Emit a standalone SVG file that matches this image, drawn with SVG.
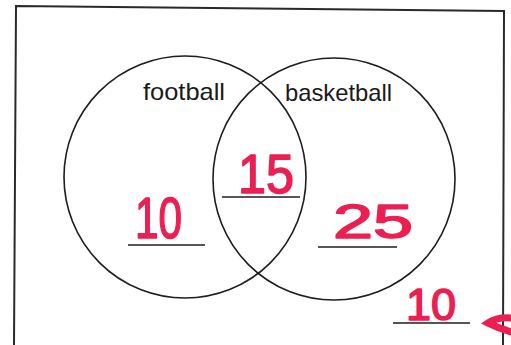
<svg xmlns="http://www.w3.org/2000/svg" width="511" height="345" viewBox="0 0 511 345">
<style>
.frame{fill:none;stroke:#2a2a2a;stroke-width:2}
.set{fill:none;stroke:#1e1e1e;stroke-width:1.6}
.label{font-family:"Liberation Sans",Arial,sans-serif;font-size:24px;fill:#1a1a1a}
.hand{font-family:"Liberation Sans",Arial,sans-serif;fill:#ec1f52;stroke:#ec1f52;stroke-width:1.6;stroke-linejoin:round}
.blank{stroke:#1e1e1e;stroke-width:1.6}
.mark{fill:none;stroke:#ec1f52;stroke-width:7;stroke-linecap:round}
</style>
<rect width="511" height="345" fill="#ffffff"/>
<polygon class="frame" points="16,6 504,11 503,346 14,346"/>
<g id="football">
<circle class="set" cx="185" cy="177" r="121"/>
<text class="label" x="143" y="100" textLength="82" lengthAdjust="spacingAndGlyphs">football</text>
</g>
<g id="basketball">
<circle class="set" cx="334" cy="179" r="121"/>
<text class="label" x="285" y="101" textLength="107" lengthAdjust="spacingAndGlyphs">basketball</text>
</g>
<g id="football-only">
<text class="hand" x="135" y="238" font-size="58" textLength="47" lengthAdjust="spacingAndGlyphs">10</text>
<line class="blank" x1="128" y1="245" x2="205" y2="245"/>
</g>
<g id="both">
<text class="hand" x="238" y="193" font-size="56" textLength="56" lengthAdjust="spacingAndGlyphs">15</text>
<line class="blank" x1="222" y1="197" x2="300" y2="197"/>
</g>
<g id="basketball-only">
<text class="hand" x="333" y="238" font-size="48" textLength="80" lengthAdjust="spacingAndGlyphs">25</text>
<line class="blank" x1="318" y1="247" x2="397" y2="247"/>
</g>
<g id="neither">
<text class="hand" x="406" y="320" font-size="45" textLength="50" lengthAdjust="spacingAndGlyphs">10</text>
<line class="blank" x1="393" y1="323" x2="470" y2="323"/>
<path class="mark" d="M511,318 Q497,317 488,323 Q498,328 511,332"/>
</g>
<g id="connectors"></g>
</svg>
